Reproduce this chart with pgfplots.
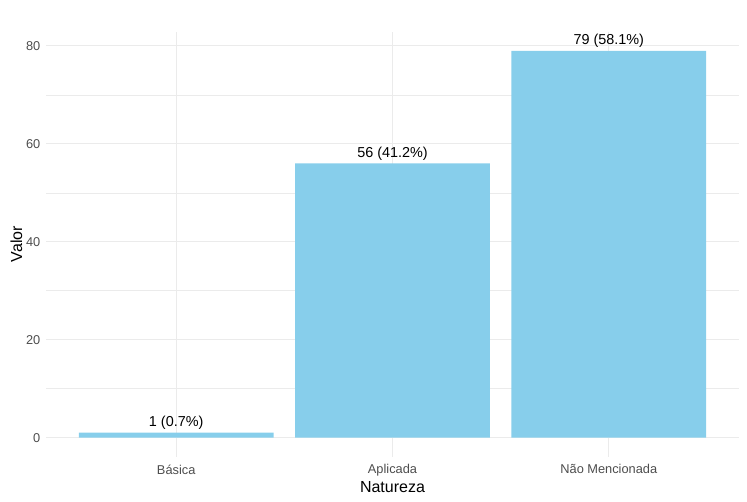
\documentclass[border=0pt]{standalone}
\usepackage{fontspec}
\setmainfont{Liberation Sans}
\usepackage{pgfplots}
\pgfplotsset{compat=1.18}
\definecolor{skyblue}{HTML}{87CEEB}
\definecolor{gridgrey}{HTML}{EBEBEB}
\definecolor{ticktext}{HTML}{4D4D4D}

\begin{document}
\begin{tikzpicture}
\useasboundingbox (-34.8pt,-33.75pt) rectangle (525.5pt,342.75pt);
\begin{axis}[
  scale only axis,
  width=519.2pt,
  height=319.1pt,
  xmin=0.4, xmax=3.6,
  ymin=-3.95, ymax=82.95,
  axis line style={draw=none},
  tick style={draw=none},
  xtick={1,2,3},
  xticklabels={Básica, Aplicada, Não Mencionada},
  ytick={0,20,40,60,80},
  minor ytick={10,30,50,70},
  grid=both,
  major grid style={gridgrey, line width=0.8pt},
  minor grid style={gridgrey, line width=0.45pt},
  ticklabel style={font=\fontsize{9.6}{11}\selectfont, text=ticktext},
  /pgf/number format/assume math mode=true,
  xticklabel style={yshift=2pt},
  yticklabel style={xshift=-1pt},
  xlabel={Natureza},
  ylabel={Valor},
  label style={font=\fontsize{12}{14}\selectfont},
  xlabel style={yshift=3.5pt},
  ylabel style={yshift=-4pt},
  ybar,
  bar width=0.9,
  nodes near coords,
  point meta=explicit symbolic,
  every node near coord/.append style={font=\fontsize{10.8}{12}\selectfont, text=black, anchor=south, yshift=-1pt},
]
\addplot[fill=skyblue, draw=none] coordinates {
  (1, 1) [1 (0.7\%)]
  (2, 56) [56 (41.2\%)]
  (3, 79) [79 (58.1\%)]
};
\end{axis}
\end{tikzpicture}
\end{document}
